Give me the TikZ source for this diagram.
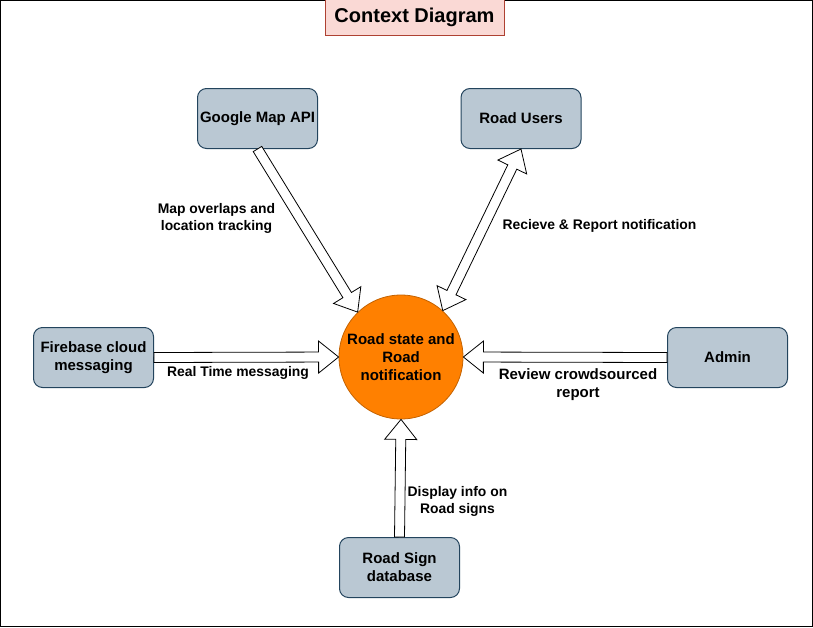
\documentclass[tikz,border=0pt]{standalone}
\usepackage{fontspec}
\setmainfont{Liberation Sans}
\usetikzlibrary{calc}

\definecolor{boxfill}{HTML}{BAC8D3}
\definecolor{boxline}{HTML}{23445D}
\definecolor{hubfill}{HTML}{FF8000}
\definecolor{hubline}{HTML}{C46200}
\definecolor{titlefill}{HTML}{FAD9D5}
\definecolor{titleline}{HTML}{AE4132}

% wide hollow arrow from #1 to #2
\newcommand\flexarrow[2]{%
  \coordinate (fh) at ($(#2)!20pt!(#1)$);
  \draw[flex] ($(#1)!5pt!90:(#2)$) -- ($(fh)!5pt!90:(#2)$) -- ($(fh)!16pt!90:(#2)$)
    -- (#2) -- ($(fh)!16pt!-90:(#2)$) -- ($(fh)!5pt!-90:(#2)$) -- ($(#1)!5pt!-90:(#2)$) -- cycle;
}
% same, with a head at both ends
\newcommand\flexboth[2]{%
  \coordinate (ha) at ($(#1)!20pt!(#2)$);
  \coordinate (hb) at ($(#2)!20pt!(#1)$);
  \draw[flex] (#1) -- ($(ha)!16pt!90:(#2)$) -- ($(ha)!5pt!90:(#2)$) -- ($(hb)!5pt!-90:(#1)$)
    -- ($(hb)!16pt!-90:(#1)$) -- (#2) -- ($(hb)!16pt!90:(#1)$) -- ($(hb)!5pt!90:(#1)$)
    -- ($(ha)!5pt!-90:(#2)$) -- ($(ha)!16pt!-90:(#2)$) -- cycle;
}

\begin{document}
\begin{tikzpicture}[
    x=1pt, y=-1pt,
    box/.style={draw=boxline, fill=boxfill, line width=1pt, rounded corners=9pt,
      minimum width=120pt, minimum height=60pt, inner sep=2pt, align=center,
      font=\bfseries\fontsize{15}{18}\selectfont},
    hub/.style={circle, draw=hubline, fill=hubfill, line width=0.8pt, minimum size=124pt,
      inner sep=0pt, align=center, font=\bfseries\fontsize{15}{18}\selectfont},
    titlebox/.style={draw=titleline, fill=titlefill, line width=1pt, minimum width=179pt,
      minimum height=36pt, font=\bfseries\fontsize{20}{22}\selectfont},
    lbl/.style={align=center, inner sep=0pt, font=\bfseries\fontsize{13.9}{17}\selectfont},
    biglbl/.style={lbl, font=\bfseries\fontsize{15}{18}\selectfont},
    flex/.style={draw=black, fill=white, line width=0.8pt, line join=miter}
  ]
  \useasboundingbox (0,0) rectangle (813,627);
  \draw[line width=1pt] (0.5,0.5) rectangle (812.5,626.5);

  \node[titlebox] (title) at (414.5,17.5) {Context Diagram};

  \node[hub] (road) at (401,357) {Road state and\\Road\\notification};
  \node[box] (gmap) at (257.5,118.5) {Google Map API};
  \node[box] (users) at (521,118.5) {Road Users};
  \node[box] (fire) at (93.5,357.5) {Firebase cloud\\messaging};
  \node[box] (admin) at (727.5,357.5) {Admin};
  \node[box] (sign) at (399.5,567.5) {Road Sign\\database};

  \flexarrow{gmap.south}{road.134}
  \flexboth{road.48}{users.south}
  \flexarrow{fire.east}{road.west}
  \flexarrow{admin.west}{road.east}
  \flexarrow{sign.north}{road.south}

  \node[lbl] (l-gmap) at (216.5,218.5) {Map overlaps and\\location tracking};
  \node[lbl] (l-users) at (599.5,226) {Recieve \& Report notification};
  \node[lbl] (l-fire) at (238,373) {Real Time messaging};
  \node[biglbl] (l-admin) at (578,385) {Review crowdsourced\\report};
  \node[lbl] (l-sign) at (457.5,501.5) {Display info on\\Road signs};
\end{tikzpicture}
\end{document}
